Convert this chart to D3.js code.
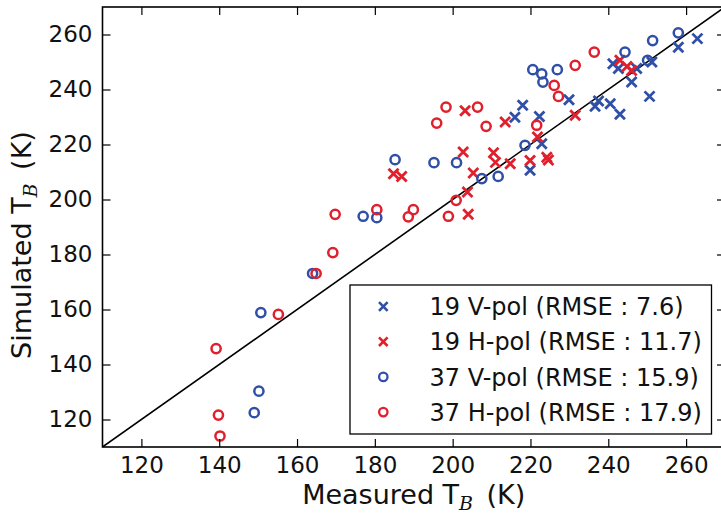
<!DOCTYPE html>
<html>
<head>
<meta charset="utf-8">
<script src="https://cdn.jsdelivr.net/npm/d3@7/dist/d3.min.js"></script>
<style>
html,body{margin:0;padding:0;background:#fff;}
svg{display:block;font-family:"DejaVu Sans",sans-serif;}
</style>
</head>
<body>
<svg id="chart" width="721" height="514"></svg>
<script>
// ---- data ----
const xTicks = [120,140,160,180,200,220,240,260];
const yTicks = [120,140,160,180,200,220,240,260];
const legendLabels = ["19 V-pol (RMSE : 7.6)","19 H-pol (RMSE : 11.7)","37 V-pol (RMSE : 15.9)","37 H-pol (RMSE : 17.9)"];

const v19 = [[216.0,229.9],[218.0,234.3],[222.3,230.2],[222.9,220.3],[219.9,210.6],[229.9,236.3],
  [236.6,233.9],[237.5,235.8],[240.5,234.8],[243.0,231.0],[241.2,249.4],[242.6,247.6],
  [247.3,247.6],[246.0,242.7],[251.2,250.0],[250.6,237.5],[258.0,255.4],[262.9,258.5]];
const h19 = [[184.8,209.4],[186.9,208.4],[202.7,217.3],[205.3,209.6],[203.8,202.7],[204.0,194.6],
  [210.5,217.0],[211.0,213.5],[214.8,213.0],[219.9,214.2],[224.2,215.4],[224.6,214.4],
  [221.8,222.7],[203.2,232.3],[213.5,228.2],[231.5,230.6],[243.0,250.6],[244.8,248.4],[246.0,246.9]];
const v37 = [[149.0,122.5],[150.2,130.3],[150.7,158.9],[164.0,173.1],[177.0,193.9],[180.5,193.4],
  [185.2,214.5],[195.2,213.4],[201.0,213.4],[207.5,207.6],[211.7,208.4],[218.6,219.7],
  [220.6,247.2],[222.9,245.7],[223.2,242.7],[226.9,247.2],[244.3,253.6],[250.1,250.6],
  [251.4,257.8],[258.0,260.6]];
const h37 = [[139.2,145.8],[139.8,121.6],[140.2,114.0],[155.2,158.2],[164.9,173.1],[169.2,180.7],
  [169.8,194.6],[180.5,196.3],[188.6,193.7],[189.9,196.3],[198.9,193.9],[200.9,199.7],
  [195.9,227.8],[198.3,233.6],[206.4,233.6],[208.6,226.6],[221.6,227.0],[226.1,241.5],
  [227.2,237.5],[231.5,248.8],[236.4,253.6]];

const BLUE = "#3050a8", RED = "#e0202c";

// ---- layout ----
const L = 102.5, R = 725, T = 7, B = 447;
const x = d3.scaleLinear().domain([110,270]).range([L,R]);
const y = d3.scaleLinear().domain([110,270]).range([B,T]);

const svg = d3.select("#chart");
svg.append("defs").append("clipPath").attr("id","clip")
  .append("rect").attr("x",L).attr("y",T).attr("width",R-L).attr("height",B-T);

// diagonal 1:1 line
svg.append("line").attr("clip-path","url(#clip)")
  .attr("x1",x(110)).attr("y1",y(110)).attr("x2",x(270)).attr("y2",y(270))
  .attr("stroke","#000").attr("stroke-width",1.6);

const plot = svg.append("g").attr("clip-path","url(#clip)");

function drawX(g, data, color){
  g.selectAll(null).data(data).enter().append("path")
    .attr("d", d => { const cx=x(d[0]), cy=y(d[1]), s=5;
      return `M${cx-s},${cy-s}L${cx+s},${cy+s}M${cx-s},${cy+s}L${cx+s},${cy-s}`; })
    .attr("stroke",color).attr("stroke-width",2.8).attr("fill","none");
}
function drawO(g, data, color){
  g.selectAll(null).data(data).enter().append("circle")
    .attr("cx", d=>x(d[0])).attr("cy", d=>y(d[1])).attr("r",4.6)
    .attr("stroke",color).attr("stroke-width",2.5).attr("fill","none");
}
drawX(plot, v19, BLUE);
drawX(plot, h19, RED);
drawO(plot, v37, BLUE);
drawO(plot, h37, RED);

// axes with inward ticks on all sides
const tickLen = 8;
const axB = svg.append("g").attr("transform",`translate(0,${B})`)
  .call(d3.axisBottom(x).tickValues(xTicks).tickSizeInner(-tickLen).tickSizeOuter(0).tickPadding(10));
const axT = svg.append("g").attr("transform",`translate(0,${T})`)
  .call(d3.axisTop(x).tickValues(xTicks).tickSizeInner(-tickLen).tickSizeOuter(0).tickFormat(""));
const axL = svg.append("g").attr("transform",`translate(${L},0)`)
  .call(d3.axisLeft(y).tickValues(yTicks).tickSizeInner(-tickLen).tickSizeOuter(0).tickPadding(10));
const axR = svg.append("g").attr("transform",`translate(${R},0)`)
  .call(d3.axisRight(y).tickValues(yTicks).tickSizeInner(-tickLen).tickSizeOuter(0).tickFormat(""));
[axB,axT,axL,axR].forEach(a=>{
  a.select(".domain").remove();
  a.selectAll(".tick line").attr("stroke","#000").attr("stroke-width",1.2);
  a.selectAll("text").attr("font-family","DejaVu Sans").attr("font-size",23).attr("fill","#111");
});
axB.selectAll("text").attr("dy","0.71em");

// frame
svg.append("rect").attr("x",L).attr("y",T).attr("width",R-L).attr("height",B-T)
  .attr("fill","none").attr("stroke","#000").attr("stroke-width",1.6);

// legend
const lg = svg.append("g");
lg.append("rect").attr("x",350).attr("y",285).attr("width",361.5).attr("height",149)
  .attr("fill","#fff").attr("stroke","#000").attr("stroke-width",1.3);
const legendSeries = [[BLUE,"x"],[RED,"x"],[BLUE,"o"],[RED,"o"]];
legendLabels.forEach((lab,i)=>{
  const cy = 306.5 + i*35.2, cx = 383.3;
  if(legendSeries[i][1]==="x"){
    const s=4.3;
    lg.append("path").attr("d",`M${cx-s},${cy-s}L${cx+s},${cy+s}M${cx-s},${cy+s}L${cx+s},${cy-s}`)
      .attr("stroke",legendSeries[i][0]).attr("stroke-width",2.6);
  } else {
    lg.append("circle").attr("cx",cx).attr("cy",cy).attr("r",4.2).attr("fill","none")
      .attr("stroke",legendSeries[i][0]).attr("stroke-width",2.3);
  }
  lg.append("text").attr("x",429.5).attr("y",cy).attr("dy","0.36em")
    .attr("font-size",24).attr("fill","#111").text(lab);
});

// axis labels
const xl = svg.append("text").attr("x",(L+R)/2).attr("y",504).attr("text-anchor","middle")
  .attr("font-size",27).attr("fill","#111");
xl.append("tspan").text("Measured T");
xl.append("tspan").attr("font-style","italic").attr("font-family","DejaVu Serif").attr("font-size",19).attr("dy",6).text("B");
xl.append("tspan").attr("dy",-6).text("\u2002(K)");

const yl = svg.append("text").attr("transform",`translate(31,${245}) rotate(-90)`).attr("text-anchor","middle")
  .attr("font-size",27).attr("fill","#111");
yl.append("tspan").text("Simulated T");
yl.append("tspan").attr("font-style","italic").attr("font-family","DejaVu Serif").attr("font-size",19).attr("dy",6).text("B");
yl.append("tspan").attr("dy",-6).text("\u2002(K)");
</script>
</body>
</html>
